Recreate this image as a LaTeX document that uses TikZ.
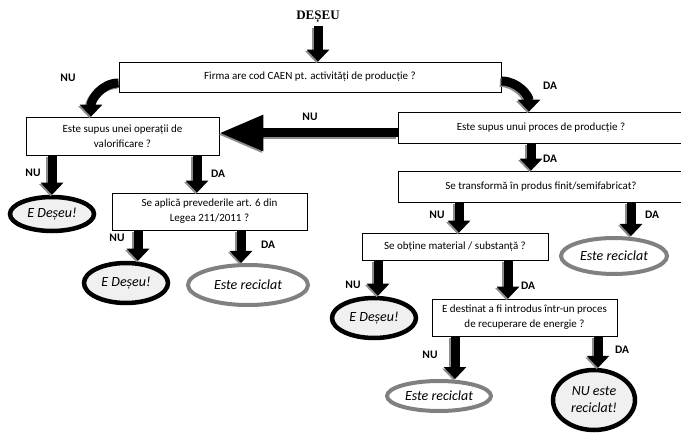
\documentclass[tikz,border=0pt]{standalone}
\usepackage{fontspec}
\setmainfont{Carlito}
\newfontfamily\titlufont{Liberation Serif}
\usetikzlibrary{shapes.geometric}
\usetikzlibrary{arrows.meta}

\begin{document}
\begin{tikzpicture}[x=1pt,y=-1pt]
        \tikzstyle{intrebare} = [draw, rectangle, line width=0.8pt, inner sep=2pt, align=center, font=\fontsize{11}{15}\selectfont]
        \tikzstyle{deseu} = [draw, ellipse, line width=4.5pt, fill=black!6, inner sep=0pt, align=center, font=\fontsize{14}{17}\selectfont\itshape]
        \tikzstyle{reciclat} = [draw=black!50, ellipse, line width=4pt, fill=white, inner sep=0pt, font=\fontsize{14}{17}\selectfont\itshape]
        \tikzstyle{eticheta} = [font=\fontsize{11.5}{13}\selectfont\bfseries]
        \tikzstyle{sageata} = [line width=9pt, -{Triangle[length=12pt,width=22pt]}, preaction={draw=black!45, line width=9pt, -{Triangle[length=12pt,width=22pt]}, transform canvas={shift={(-1.5pt,-1.5pt)}}}]
        \tikzstyle{sageatamare} = [line width=9pt, -{Triangle[length=44pt,width=34pt]}, preaction={draw=black!45, line width=9pt, -{Triangle[length=44pt,width=34pt]}, transform canvas={shift={(-1.5pt,-1.5pt)}}}]

        \useasboundingbox (0,0) rectangle (681,433);
        \clip (0,0) rectangle (681,433);

        % Intrebarile
        \node[font=\titlufont\fontsize{13}{15}\selectfont\bfseries](titlu) at (318, 17) {DEȘEU};
        \node[intrebare, minimum width=382, minimum height=30](firma) at (310, 77) {Firma are cod CAEN pt. activități de producție ?};
        \node[intrebare, minimum width=193, minimum height=38](valorif) at (122.5, 136) {Este supus unei operații de\\valorificare ?};
        \node[intrebare, minimum width=286, minimum height=31](proces) at (541, 127.5) {Este supus unui proces de producție ?};
        \node[intrebare, minimum width=286, minimum height=31](transf) at (541, 186.5) {Se transformă în produs finit/semifabricat?};
        \node[intrebare, minimum width=195, minimum height=37](aplica) at (209.5, 211.5) {Se aplică prevederile art. 6 din\\Legea 211/2011 ?};
        \node[intrebare, minimum width=186, minimum height=27](obtine) at (455, 246.5) {Se obține material / substanță ?};
        \node[intrebare, minimum width=185, minimum height=37](destinat) at (524.5, 317.5) {E destinat a fi introdus într-un proces\\de recuperare de energie ?};

        % Rezultatele
        \node[deseu, minimum width=84, minimum height=34](deseu1) at (52, 214) {E Deșeu!};
        \node[deseu, minimum width=84, minimum height=40](deseu2) at (126, 283) {E Deșeu!};
        \node[reciclat, minimum width=120, minimum height=40](recicl1) at (248, 285) {Este reciclat};
        \node[reciclat, minimum width=106, minimum height=36](recicl2) at (614, 256) {Este reciclat};
        \node[deseu, minimum width=84, minimum height=40](deseu3) at (374, 318) {E Deșeu!};
        \node[reciclat, minimum width=104, minimum height=30](recicl3) at (439, 396) {Este reciclat};
        \node[deseu, minimum width=82, minimum height=60](nuerec) at (594, 400) {NU este\\reciclat!};

        % Sagetile
        \draw[sageata] (titlu) -- (titlu |- firma.north);
        \draw[sageata] ([yshift=-6pt]firma.west) to[out=180,in=90] ([xshift=-31.5pt]valorif.north);
        \draw[sageata] ([yshift=-4pt]firma.east) to[out=0,in=90] ([xshift=-12pt]proces.north);
        \draw[sageatamare] ([yshift=-5.5pt]proces.west) -- ([yshift=-5.5pt]proces.west -| valorif.east);
        \draw[sageata] ([xshift=-10pt]proces.south) -- ([xshift=-10pt]proces.south |- transf.north);
        \draw[sageata] (valorif.south -| deseu1.north) -- (deseu1.north);
        \draw[sageata] ([xshift=-12.5pt]aplica.north |- valorif.south) -- ([xshift=-12.5pt]aplica.north);
        \draw[sageata] ([xshift=12pt]deseu2.north |- aplica.south) -- ([xshift=12pt]deseu2.north);
        \draw[sageata] ([xshift=-7pt]recicl1.north |- aplica.south) -- ([xshift=-7pt]recicl1.north);
        \draw[sageata] ([xshift=4pt]obtine.north |- transf.south) -- ([xshift=4pt]obtine.north);
        \draw[sageata] ([xshift=17pt]recicl2.north |- transf.south) -- ([xshift=17pt]recicl2.north);
        \draw[sageata] ([xshift=4pt]deseu3.north |- obtine.south) -- ([xshift=4pt]deseu3.north);
        \draw[sageata] ([xshift=-16.5pt]destinat.north |- obtine.south) -- ([xshift=-16.5pt]destinat.north);
        \draw[sageata] ([xshift=16pt]recicl3.north |- destinat.south) -- ([xshift=16pt]recicl3.north);
        \draw[sageata] ([xshift=4pt]nuerec.north |- destinat.south) -- ([xshift=4pt]nuerec.north);

        % Etichetele NU / DA
        \foreach \nume/\x/\y/\t in {lnu1/68/78/NU, lda1/550/86/DA, lnu2/310/117/NU, lda2/550/159/DA,
                lnu3/33/173/NU, lda3/218/174/DA, lnu4/117/238/NU, lda4/268/245/DA,
                lnu5/437/215/NU, lda5/652/215/DA, lnu6/353/285/NU, lda6/528/286/DA,
                lnu7/430/355/NU, lda7/622/350/DA}
            \node[eticheta](\nume) at (\x, \y) {\t};
    \end{tikzpicture}
\end{document}
